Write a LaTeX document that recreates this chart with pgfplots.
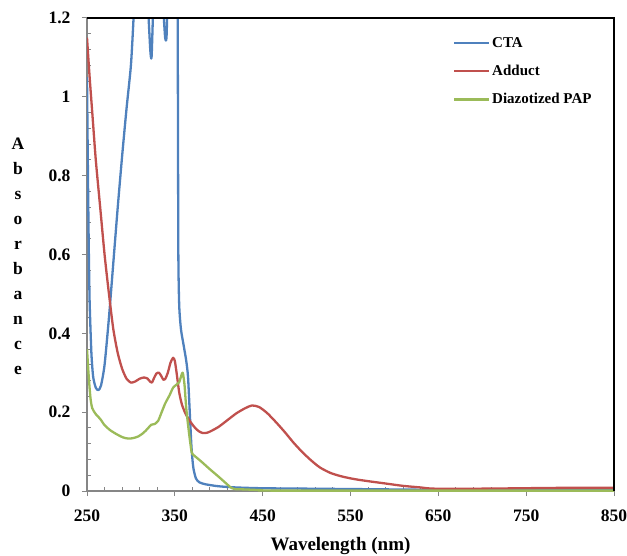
\documentclass[border=0pt]{standalone}
\usepackage{fontspec}
\setmainfont{Liberation Serif}
\usepackage{pgfplots}
\pgfplotsset{compat=1.18}

\definecolor{ctablue}{HTML}{4F81BD}
\definecolor{addred}{HTML}{C0504D}
\definecolor{papgreen}{HTML}{9BBB59}
\definecolor{axisgray}{HTML}{868686}

\begin{document}
\begin{tikzpicture}
\begin{axis}[
    scale only axis,
    width=527pt, height=473pt,
    xmin=250, xmax=850, ymin=0, ymax=1.2,
    axis lines=left,
    axis line style={-, axisgray, line width=2pt},
    clip mode=individual,
    xtick={250,350,450,550,650,750,850},
    ytick={0,0.2,0.4,0.6,0.8,1,1.2},
    minor x tick num=4, minor y tick num=4,
    tick align=outside,
    major tick length=5pt, minor tick length=4pt,
    every tick/.style={axisgray, line width=1pt},
    minor x tick style={yshift=4pt},
    minor y tick style={xshift=4pt},
    /pgf/number format/assume math mode=true,
    tick label style={font=\fontsize{17.5}{20}\selectfont\bfseries},
    xticklabel style={yshift=-10pt},
    yticklabel style={xshift=-8pt},
    xlabel={Wavelength (nm)},
    ylabel={A\\b\\s\\o\\r\\b\\a\\n\\c\\e},
    every axis x label/.style={at={(rel axis cs:0.5,0)}, anchor=center,
        xshift=-10pt, yshift=-55pt, font=\fontsize{19}{22}\selectfont\bfseries},
    every axis y label/.style={at={(rel axis cs:0,0.5)}, anchor=center,
        xshift=-69pt, yshift=-2pt, align=center, font=\fontsize{17.5}{25}\selectfont\bfseries},
    legend style={at={(rel axis cs:0.694,0.964)}, anchor=north west,
        draw=none, fill=none, inner sep=0pt, row sep=12.5pt,
        font=\fontsize{15}{18}\selectfont\bfseries},
    legend cell align=left,
    legend image code/.code={\draw[#1] (0pt,0pt) -- (35pt,0pt);},
    every axis plot/.append style={line width=2.3pt, line join=round, smooth, tension=0.4},
]
\addplot[ctablue] coordinates {
(250,1.05) (251,0.82) (252,0.62) (253,0.48) (255,0.35) (257,0.29) (260,0.262)
(263,0.256) (266,0.268) (270,0.32) (275,0.44) (280,0.58) (285,0.72) (290,0.85)
(295,0.97) (300,1.08) (303,1.2) (306,1.35) (310,1.45) (315,1.4) (319,1.25)
(322,1.12) (323.5,1.10) (325,1.2) (328,1.4) (333,1.4) (337,1.22) (339,1.15)
(340.5,1.15) (342,1.25) (346,1.4) (351,1.4) (353,1.3) (353.5,1.0) (354,0.6)
(355,0.47) (357,0.41) (360,0.37) (363,0.33) (365,0.29) (367,0.2) (369,0.11)
(371,0.06) (374,0.032) (378,0.022) (385,0.017) (400,0.012) (420,0.009)
(450,0.007) (500,0.006) (550,0.005) (650,0.003) (750,0.002) (850,0.002)
};
\addlegendentry{CTA}
\addplot[addred] coordinates {
(250,1.15) (253,1.05) (256,0.96) (260,0.84) (265,0.72) (270,0.6) (275,0.5)
(280,0.41) (285,0.35) (290,0.31) (295,0.285) (300,0.275) (305,0.278) (310,0.285)
(315,0.288) (319,0.285) (322,0.277) (324,0.275) (326,0.285) (329,0.298) (332,0.3)
(335,0.29) (337,0.282) (339,0.284) (342,0.3) (345,0.325) (348,0.338) (350,0.33)
(352,0.3) (355,0.25) (358,0.22) (362,0.197) (367,0.178) (372,0.163) (377,0.152)
(382,0.147) (387,0.148) (392,0.153) (400,0.163) (410,0.18) (420,0.197) (430,0.21)
(438,0.217) (446,0.213) (455,0.198) (465,0.175) (475,0.15) (485,0.123) (495,0.099)
(505,0.078) (515,0.06) (527,0.046) (540,0.037) (555,0.03) (570,0.025) (590,0.019)
(610,0.013) (630,0.009) (645,0.006) (700,0.006) (790,0.008) (850,0.008)
};
\addlegendentry{Adduct}
\addplot[papgreen] coordinates {
(250,0.36) (252,0.29) (254,0.235) (256,0.21) (260,0.195) (265,0.183) (270,0.167)
(276,0.155) (283,0.145) (291,0.136) (297,0.133) (302,0.134) (308,0.138) (314,0.147)
(319,0.158) (323,0.168) (327,0.17) (331,0.178) (335,0.2) (339,0.222) (344,0.243)
(348,0.262) (352,0.27) (355,0.276) (357,0.29) (359,0.3) (361,0.27) (363,0.21)
(366,0.15) (369,0.1) (371,0.092) (380,0.075) (390,0.055) (400,0.036) (410,0.016)
(413,0.01) (418,0.005) (430,0.004) (450,0.002) (470,0.001) (850,0.001)
};
\addlegendentry{Diazotized PAP}
\draw[black, line width=2.5pt] (rel axis cs:0,1) -- (rel axis cs:1,1) -- (rel axis cs:1,0);
\coordinate (sw) at (rel axis cs:0,0);
\coordinate (ne) at (rel axis cs:1,1);
\end{axis}
\pgfresetboundingbox
\path[use as bounding box] ([shift={(-87pt,-64pt)}]sw) rectangle ([shift={(13pt,18pt)}]ne);
\end{tikzpicture}
\end{document}
